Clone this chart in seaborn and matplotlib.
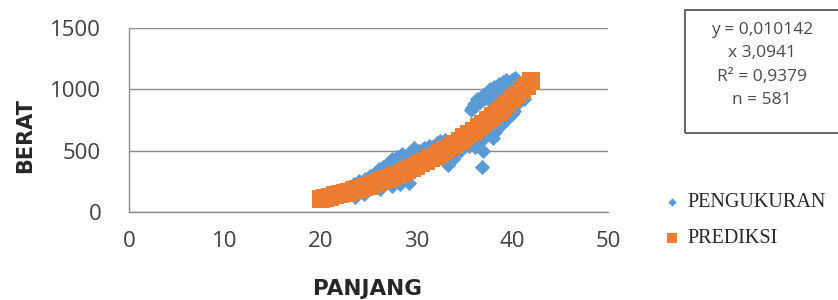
import matplotlib
matplotlib.use("Agg")
import matplotlib.pyplot as plt
import seaborn as sns
import pandas as pd
from matplotlib.patches import Rectangle

# ---- data ----
meas_len = [20.0, 20.3, 20.5, 20.8, 21.0, 21.2, 21.5, 21.8, 22.0, 22.2, 22.5, 22.8,
            23.0, 23.2, 23.5, 23.6, 23.8, 24.0, 24.2, 24.5, 24.5, 24.8, 25.0, 25.2,
            25.5, 25.8, 26.0, 26.2, 26.3, 26.5, 26.8, 27.0, 27.3, 27.5, 27.5, 27.8,
            28.0, 28.2, 28.3, 28.5, 28.8, 29.0, 29.2, 29.3, 29.5, 29.8, 30.0, 30.3,
            30.5, 30.8, 31.0, 31.3, 31.5, 31.8, 32.0, 32.3, 32.6, 33.0, 33.3, 33.5,
            33.8, 34.0, 34.3, 34.6, 35.0, 35.3, 35.6, 35.8, 36.0, 36.3, 36.6, 36.9,
            37.2, 37.5, 36.1, 36.5, 36.8, 37.0, 37.3, 37.8, 38.2, 38.5, 38.0, 38.4,
            38.8, 39.2, 39.6, 40.0, 40.3, 39.5, 40.0, 40.5, 41.0, 41.3, 41.6, 42.0,
            40.8, 39.0,
            24.0, 24.6, 25.2, 25.7, 26.1, 26.6, 27.1, 27.6, 28.1, 28.6, 29.1, 29.6,
            30.1, 30.6, 31.1, 31.6, 32.1, 32.5, 35.7, 35.9, 36.2, 36.7,
            37.7, 38.1, 38.6, 39.0, 39.4, 40.6, 37.6, 38.0, 38.7, 39.3, 40.2, 41.2,
            41.8, 34.5, 35.5, 33.8]
meas_wt = [100, 115, 95, 125, 110, 140, 120, 150, 130, 175, 160, 135,
           200, 150, 230, 120, 160, 215, 175, 240, 150, 190, 260, 195,
           300, 230, 330, 190, 260, 370, 280, 400, 300, 430, 210, 260,
           450, 320, 230, 470, 350, 420, 240, 490, 380, 520, 400, 500,
           430, 520, 460, 540, 420, 500, 440, 540, 470, 590, 380, 560,
           500, 600, 520, 620, 560, 650, 590, 850, 880, 920, 900, 950,
           930, 980, 530, 560, 367, 500, 620, 700, 650, 720, 880, 950,
           990, 1020, 1060, 1080, 1090, 770, 800, 880, 950, 1000, 1040, 1060,
           1000, 760,
           250, 270, 290, 320, 350, 340, 380, 400, 420, 440, 460, 480,
           470, 500, 510, 530, 560, 580, 830, 860, 870, 930,
           1000, 1020, 1040, 1060, 1080, 1070, 640, 600, 700, 740, 820, 920,
           1000, 500, 540, 430]

pred_len = [20.0, 20.5, 21.0, 21.5, 22.0, 22.5, 23.0, 23.5, 24.0, 24.5, 25.0, 25.5,
            26.0, 26.5, 27.0, 27.5, 28.0, 28.5, 29.0, 29.5, 30.0, 30.5, 31.0, 31.5,
            32.0, 32.5, 33.0, 33.5, 34.0, 34.5, 35.0, 35.5, 36.0, 36.5, 37.0, 37.5,
            38.0, 38.5, 39.0, 39.5, 40.0, 40.5, 41.0, 41.5, 42.0]
pred_wt = [107.7, 116.2, 125.1, 134.7, 144.4, 155.0, 166.0, 177.3, 189.0, 201.7,
           214.7, 228.3, 242.4, 257.1, 272.5, 288.3, 304.6, 321.9, 339.6, 358.1,
           377.2, 397.0, 417.3, 438.6, 460.4, 483.2, 506.6, 530.6, 555.5, 581.3,
           607.7, 634.9, 663.1, 692.0, 721.4, 752.3, 783.6, 816.2, 849.0, 883.6,
           918.7, 954.7, 991.5, 1029.5, 1068.5]

x_ticks = [0, 10, 20, 30, 40, 50]
y_ticks = [0, 500, 1000, 1500]
series_names = ["PENGUKURAN", "PREDIKSI"]
model_lines = ["y = 0,010142", "x 3,0941", "R\u00b2 = 0,9379", "n = 581"]

BLUE = "#5B9BD5"
ORANGE = "#ED7D31"

sns.set_theme(style="white")
plt.rcParams["font.family"] = ["Open Sans", "DejaVu Sans"]

df_meas = pd.DataFrame({"PANJANG": meas_len, "BERAT": meas_wt})
df_pred = pd.DataFrame({"PANJANG": pred_len, "BERAT": pred_wt})

fig = plt.figure(figsize=(8.38, 3.0), dpi=100)
ax = fig.add_axes([129 / 838, 1 - 212 / 300, 479 / 838, 184 / 300])

sns.scatterplot(data=df_meas, x="PANJANG", y="BERAT", marker="D", s=60,
                color=BLUE, linewidth=0, ax=ax, label=series_names[0], zorder=3)
sns.scatterplot(data=df_pred, x="PANJANG", y="BERAT", marker="s", s=150,
                color=ORANGE, linewidth=0, ax=ax, label=series_names[1], zorder=4)

ax.set_xlim(0, 50)
ax.set_ylim(0, 1500)
ax.set_xticks(x_ticks)
ax.set_yticks(y_ticks)
ax.tick_params(axis="both", length=0, labelsize=16, colors="#404040")
ax.tick_params(axis="y", pad=20)
ax.tick_params(axis="x", pad=14)
ax.yaxis.grid(True, color="#8c8c8c", linewidth=1.0)
ax.xaxis.grid(False)
for side in ["top", "right"]:
    ax.spines[side].set_visible(False)
for side in ["left", "bottom"]:
    ax.spines[side].set_color("#8c8c8c")
    ax.spines[side].set_linewidth(1.0)
ax.set_axisbelow(True)

ax.set_xlabel("PANJANG", fontsize=15.5, fontweight="bold", color="#262626",
              family="DejaVu Sans")
ax.set_ylabel("BERAT", fontsize=15, fontweight="bold", color="#262626",
              family="DejaVu Sans")
ax.xaxis.set_label_coords(0.497, -0.365)
ax.yaxis.set_label_coords(-0.195, 0.413)

handles, labels = ax.get_legend_handles_labels()
ax.legend(handles, labels, loc="upper left",
          bbox_to_anchor=(666 / 838, 1 - 193 / 300), bbox_transform=fig.transFigure,
          frameon=False, markerscale=0.55, handlelength=0.6, handletextpad=0.45,
          labelspacing=0.85, borderpad=0, borderaxespad=0,
          prop={"family": "Liberation Serif", "size": 14.5})

fig.patches.append(Rectangle((685 / 838, 1 - 133 / 300), 0.25, 123 / 300,
                             transform=fig.transFigure, fill=False,
                             edgecolor="#595959", linewidth=1.3))
for txt, ypx in zip(model_lines, [30, 53, 77, 100]):
    fig.text(762 / 838, 1 - ypx / 300, txt, ha="center", va="center",
             fontsize=12.5, color="#4a4a4a", family=["Open Sans", "DejaVu Sans"])

fig.savefig("out.png", dpi=100)
